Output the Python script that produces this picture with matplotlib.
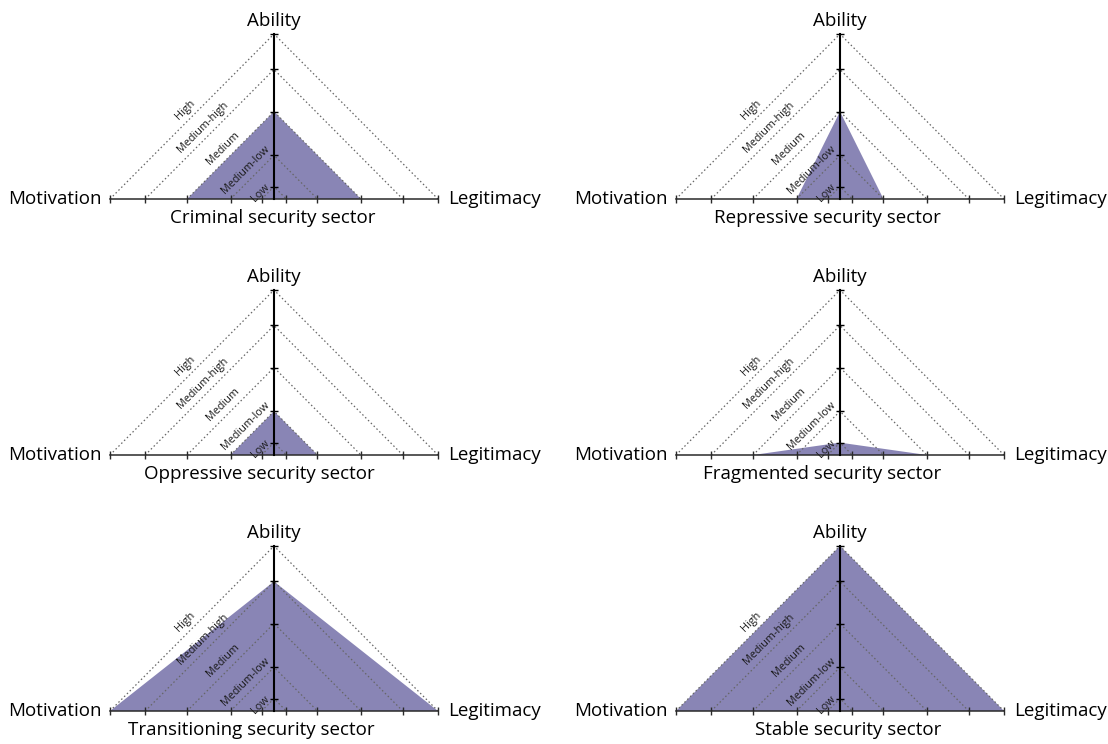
import matplotlib
matplotlib.use("Agg")
import matplotlib.pyplot as plt

plt.rcParams['font.family'] = ['Open Sans', 'DejaVu Sans']

# ---- data ----
levels = ['Low', 'Medium-low', 'Medium', 'Medium-high', 'High']
level_pos = [0.075, 0.265, 0.53, 0.785, 1.0]   # position of each level along every axis
sectors = ['Criminal security sector', 'Repressive security sector',
           'Oppressive security sector', 'Fragmented security sector',
           'Transitioning security sector', 'Stable security sector']
motivation = ['Medium', 'Medium-low', 'Medium-low', 'Medium', 'High', 'High']
ability = ['Medium', 'Medium', 'Medium-low', 'Low', 'Medium-high', 'High']
legitimacy = ['Medium', 'Medium-low', 'Medium-low', 'Medium', 'High', 'High']

lv = dict(zip(levels, level_pos))

# ---- layout (pixels) ----
W, H = 1108, 744
RX, RY = 164, 165
centers_x = [274, 840]
baselines = [199, 455, 711]
PT = 0.72  # points per pixel at dpi 100

fill_color = '#8985b5'
dot_color = '#666666'
FS = 13.5

fig = plt.figure(figsize=(W / 100, H / 100), dpi=100)

for i, name in enumerate(sectors):
    row, col = divmod(i, 2)
    cx, by = centers_x[col], baselines[row]
    ax = fig.add_axes([(cx - RX) / W, (H - by) / H, 2 * RX / W, RY / H])
    ax.set_xlim(-1, 1)
    ax.set_ylim(0, 1)
    ax.axis('off')

    # filled triangle
    m, a, l = lv[motivation[i]], lv[ability[i]], lv[legitimacy[i]]
    ax.fill([-m, 0, l], [0, a, 0], color=fill_color, lw=0, zorder=1, clip_on=False)

    # dotted level triangles
    for r in level_pos:
        ax.plot([-r, 0, r], [0, r, 0], ls=(0, (1.2, 2)), lw=0.9, color=dot_color,
                zorder=2, clip_on=False)

    # horizontal axis
    ax.plot([-1, 1], [0, 0], color='#2a2a2a', lw=1.1, zorder=3, clip_on=False)
    xt = [-r for r in level_pos] + level_pos
    ax.plot(xt, [0] * len(xt), ls='none', marker='|', ms=5.5, mew=1.0,
            color='#2a2a2a', zorder=3, clip_on=False)
    # vertical axis
    ax.plot([0, 0], [0, 1], color='black', lw=1.5, zorder=4, clip_on=False)
    ax.plot([0] * len(level_pos), level_pos, ls='none', marker='_', ms=5.5, mew=1.0,
            color='black', zorder=4, clip_on=False)

    # axis names
    ax.annotate('Ability', (0, 1), xytext=(0, 8 * PT), textcoords='offset points',
                ha='center', va='baseline', fontsize=FS)
    ax.annotate('Motivation', (-1, 0), xytext=(-8 * PT, 0), textcoords='offset points',
                ha='right', va='center', fontsize=FS)
    ax.annotate('Legitimacy', (1, 0), xytext=(10 * PT, 0), textcoords='offset points',
                ha='left', va='center', fontsize=FS)
    ax.annotate(name, (0, 0), xytext=(101 * PT, -24 * PT), textcoords='offset points',
                ha='right', va='baseline', fontsize=FS)

    # level labels along the left dotted lines
    for lab, r in zip(levels, level_pos):
        if lab == 'Low':
            xy = (-0.085, 0.036)
            off = (0, 0)
        else:
            xy = (-r / 2, r / 2)
            off = (-7 * PT, 7 * PT)
        ax.annotate(lab, xy, xytext=off, textcoords='offset points', rotation=45,
                    rotation_mode='anchor', ha='center', va='center', fontsize=7.8,
                    color='#1a1a1a', zorder=5)

fig.savefig('out.png', dpi=100)
